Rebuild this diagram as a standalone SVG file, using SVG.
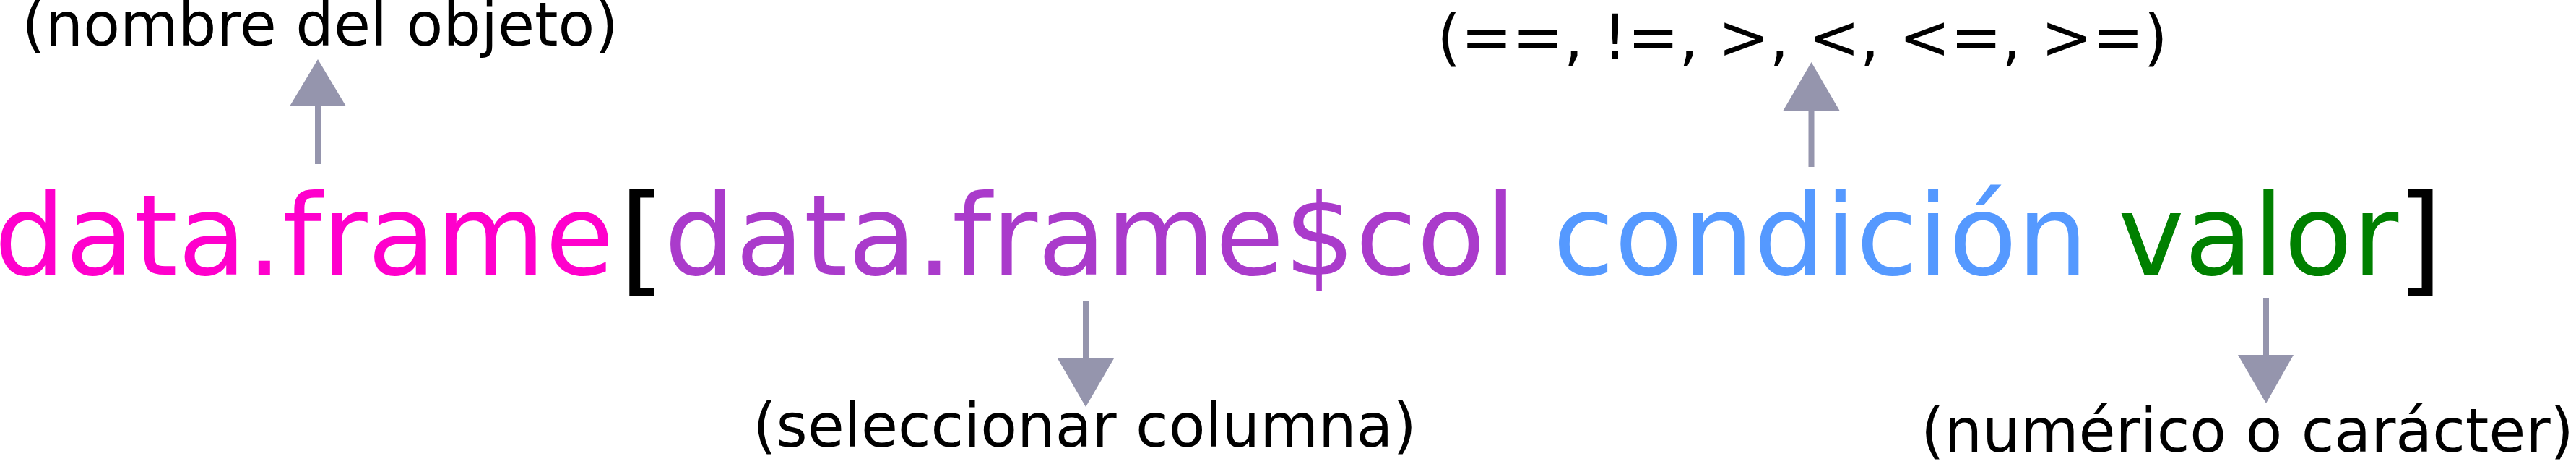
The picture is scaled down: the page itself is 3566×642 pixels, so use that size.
<svg xmlns="http://www.w3.org/2000/svg" width="3566" height="642" viewBox="0 0 3566 642">
<style>
.main{font-family:"DejaVu Sans","Liberation Sans",sans-serif;font-size:155px}
.br{font-family:"DejaVu Sans","Liberation Sans",sans-serif;font-size:166px;fill:#000}
.lbl{font-family:"DejaVu Sans","Liberation Sans",sans-serif;font-size:83px;fill:#000;text-anchor:middle}
.shaft{stroke:#9595AD;stroke-width:8;fill:none}
.head{fill:#9595AD}
</style>
<rect width="3566" height="642" fill="#fff"/>
<g id="expr-obj"><text class="main" x="-8" y="380" fill="#FF00CC">data.frame</text></g>
<g id="bracket-open"><text class="br" x="857" y="388">[</text></g>
<g id="expr-col"><text class="main" x="919.5" y="380" fill="#AA3BCB">data.frame$col</text></g>
<g id="expr-cond"><text class="main" x="2149.5" y="380" fill="#5599FF">condición</text></g>
<g id="expr-val"><text class="main" x="2932" y="380" fill="#008000">valor</text></g>
<g id="bracket-close"><text class="br" x="3317" y="388">]</text></g>
<g id="label-obj"><text class="lbl" x="443" y="63">(nombre del objeto)</text></g>
<g id="label-col"><text class="lbl" x="1501.5" y="618">(seleccionar columna)</text></g>
<g id="label-cond"><text class="lbl" x="2495" y="81" style="font-size:85px">(==, !=, &gt;, &lt;, &lt;=, &gt;=)</text></g>
<g id="label-val"><text class="lbl" x="3111" y="625">(numérico o carácter)</text></g>
<g id="connectors">
<line class="shaft" x1="440" y1="227" x2="440" y2="145"/>
<polygon class="head" points="440,82 401,147 479,147"/>
<line class="shaft" x1="2507.5" y1="231" x2="2507.5" y2="151"/>
<polygon class="head" points="2507.5,86 2468.5,153 2546.5,153"/>
<line class="shaft" x1="1503" y1="417" x2="1503" y2="498"/>
<polygon class="head" points="1503,563 1464,496 1542,496"/>
<line class="shaft" x1="3137" y1="412" x2="3137" y2="493"/>
<polygon class="head" points="3137,558 3098,491 3175,491"/>
</g>
</svg>
